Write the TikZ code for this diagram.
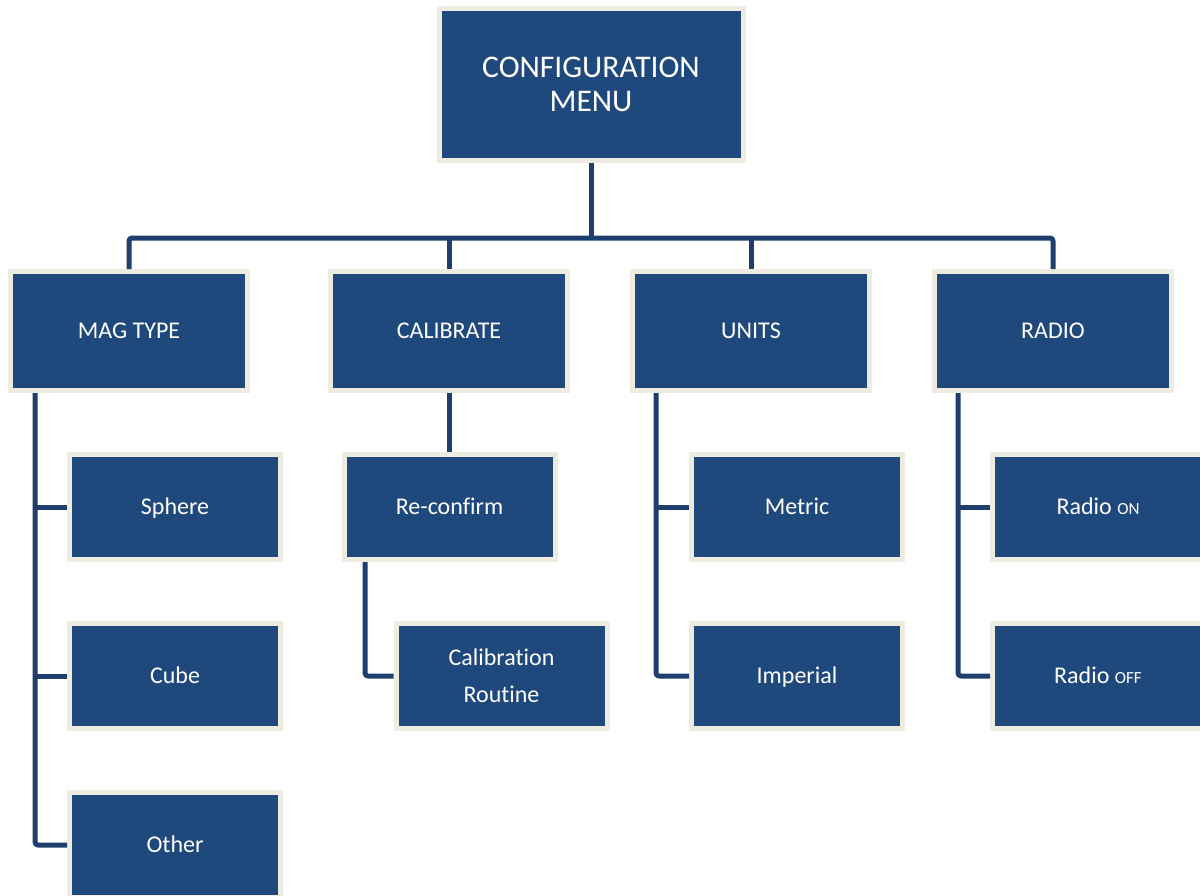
\documentclass[tikz,border=0pt]{standalone}
\usepackage{fontspec}
\setmainfont{Carlito}[Ligatures=NoCommon]
\definecolor{boxblue}{RGB}{31,73,125}
\definecolor{boxcream}{RGB}{238,236,225}
\definecolor{linkblue}{RGB}{30,62,110}
\newcommand{\smallcap}[1]{{\fontsize{17}{20}\selectfont #1}}
\begin{document}
\begin{tikzpicture}[x=1pt,y=-1pt,
  menubox/.style={rectangle, fill=boxblue, draw=boxcream, line width=5pt, text=white,
    inner sep=0pt, align=center, font=\fontsize{24}{37}\selectfont},
  oneline/.style={text height=19pt, text depth=5pt},
  topbox/.style={menubox, minimum width=304pt, minimum height=152pt, font=\fontsize{31.5}{34}\selectfont},
  midbox/.style={menubox, oneline, minimum width=237pt, minimum height=119pt},
  subbox/.style={menubox, minimum width=211pt, minimum height=105pt},
  link/.style={draw=linkblue, line width=5pt, line join=round, rounded corners=3pt}]
\clip (0,0) rectangle (1200,895);
\useasboundingbox (0,0) rectangle (1200,895);
\fill[white] (0,0) rectangle (1200,895);

\node[topbox] (cfg) at (591,84) {CONFIGURATION\\MENU};

\node[midbox] (mag) at (129,331) {MAG TYPE};
\node[midbox] (cal) at (449,331) {CALIBRATE};
\node[midbox] (uni) at (751,331) {UNITS};
\node[midbox] (rad) at (1053,331) {RADIO};

\node[subbox, oneline] (sph) at (175,507) {Sphere};
\node[subbox, oneline] (cub) at (175,676) {Cube};
\node[subbox, oneline] (oth) at (175,845) {Other};

\node[subbox, oneline] (rec) at (449.5,507) {Re-confirm};
\node[subbox] (rou) at (501.5,676) {Calibration\\Routine};

\node[subbox, oneline] (met) at (797,507) {Metric};
\node[subbox, oneline] (imp) at (797,676) {Imperial};

\node[subbox, oneline] (ron) at (1098,507) {Radio \smallcap{ON}};
\node[subbox, oneline] (rof) at (1098,676) {Radio \smallcap{OFF}};

\coordinate (bus) at (591,238);
% top tree
\draw[link] (cfg.south) -- (bus);
\draw[link] (mag.north) |- (bus) -| (rad.north);
\draw[link] (cal.north) -- (cal.north |- bus);
\draw[link] (uni.north) -- (uni.north |- bus);

% MAG TYPE children
\draw[link] (mag.south -| 35,0) |- (oth.west);
\draw[link] (35,507) -- (sph.west);
\draw[link] (35,676) -- (cub.west);

% CALIBRATE children
\draw[link] (cal.south) -- (rec.north -| cal.south);
\draw[link] (rec.south -| 365,0) |- (rou.west);

% UNITS children
\draw[link] (uni.south -| 656,0) |- (imp.west);
\draw[link] (656,507) -- (met.west);

% RADIO children
\draw[link] (rad.south -| 958,0) |- (rof.west);
\draw[link] (958,507) -- (ron.west);
\end{tikzpicture}
\end{document}
